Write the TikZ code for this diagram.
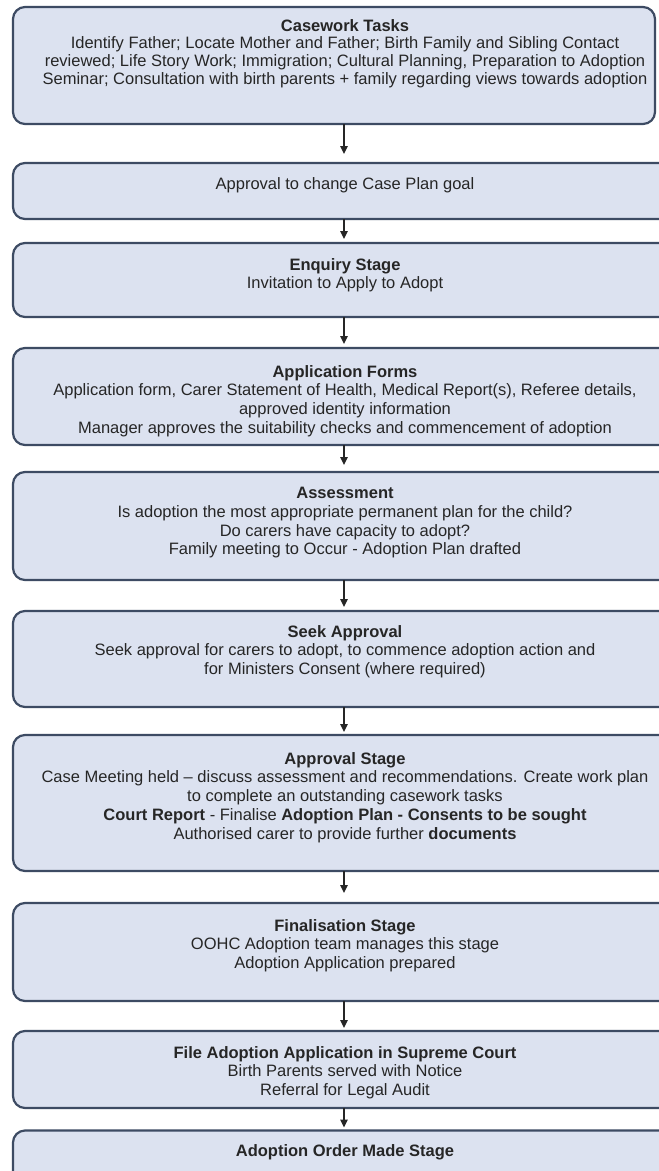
\documentclass[tikz,border=0pt]{standalone}
\usepackage{fontspec}
\setmainfont{Liberation Sans}
\usetikzlibrary{arrows.meta}
\definecolor{boxfill}{HTML}{DCE2F0}
\definecolor{boxline}{HTML}{3D4B63}
\definecolor{txt}{HTML}{262626}
\begin{document}
\begin{tikzpicture}[x=1pt,y=-1pt,
  stagebox/.style={draw=boxline, line width=2.2pt, fill=boxfill, rounded corners=12pt,
    minimum width=662pt, inner sep=0pt, outer sep=0pt},
  stagetext/.style={text=txt, align=center, inner sep=0pt, anchor=north,
    font=\fontsize{16.5}{18.8}\selectfont},
  flow/.style={draw=black!85, line width=1.3pt, -{Triangle[length=8pt,width=7.5pt]}}]
\useasboundingbox (0,0) rectangle (659,1171);
\clip (0,0) rectangle (659,1171);
\fill[white] (0,0) rectangle (659,1171);

% boxes
\node[stagebox, minimum width=642pt, minimum height=117pt] (b1) at (334,65.5) {};
\node[stagebox, minimum height=56pt]  (b2)  at (344,191) {};
\node[stagebox, minimum height=74pt]  (b3)  at (344,280) {};
\node[stagebox, minimum height=97pt]  (b4)  at (344,396.5) {};
\node[stagebox, minimum height=108pt] (b5)  at (344,526) {};
\node[stagebox, minimum height=96pt]  (b6)  at (344,659) {};
\node[stagebox, minimum height=136pt] (b7)  at (344,803) {};
\node[stagebox, minimum height=98pt]  (b8)  at (344,952) {};
\node[stagebox, minimum height=77pt]  (b9)  at (344,1069.5) {};
\node[stagebox, minimum height=99pt]  (b10) at (344,1180) {};

% texts
\node[stagetext, font=\fontsize{16.5}{17.8}\selectfont] (t1) at (345,19)
  {\textbf{Casework Tasks}\\
   Identify Father; Locate Mother and Father; Birth Family and Sibling Contact\\
   reviewed; Life Story Work; Immigration; Cultural Planning, Preparation to Adoption\\
   Seminar; Consultation with birth parents + family regarding views towards adoption};
\node[stagetext] (t2) at (345,177) {Approval to change Case Plan goal};
\node[stagetext] (t3) at (345,258) {\textbf{Enquiry Stage}\\ Invitation to Apply to Adopt};
\node[stagetext] (t4) at (345,365)
  {\textbf{Application Forms}\\
   Application form, Carer Statement of Health, Medical Report(s), Referee details,\\
   approved identity information\\
   Manager approves the suitability checks and commencement of adoption};
\node[stagetext] (t5) at (345,487)
  {\textbf{Assessment}\\
   Is adoption the most appropriate permanent plan for the child?\\
   Do carers have capacity to adopt?\\
   Family meeting to Occur - Adoption Plan drafted};
\node[stagetext] (t6) at (345,625)
  {\textbf{Seek Approval}\\
   Seek approval for carers to adopt, to commence adoption action and\\
   for Ministers Consent (where required)};
\node[stagetext] (t7) at (345,752)
  {\textbf{Approval Stage}\\
   Case Meeting held -- discuss assessment and recommendations. Create work plan\\
   to complete an outstanding casework tasks\\
   \textbf{Court Report} - Finalise \textbf{Adoption Plan - Consents to be sought}\\
   Authorised carer to provide further \textbf{documents}};
\node[stagetext] (t8) at (345,919)
  {\textbf{Finalisation Stage}\\
   OOHC Adoption team manages this stage\\
   Adoption Application prepared};
\node[stagetext] (t9) at (345,1046)
  {\textbf{File Adoption Application in Supreme Court}\\
   Birth Parents served with Notice\\
   Referral for Legal Audit};
\node[stagetext] (t10) at (345,1144) {\textbf{Adoption Order Made Stage}};

% connectors
\coordinate (ax) at (344,0);
\draw[flow, shorten >=9pt]  (b1.south -| ax) -- (b2.north -| ax);
\draw[flow, shorten >=4pt]  (b2.south -| ax) -- (b3.north -| ax);
\draw[flow, shorten >=4pt]  (b3.south -| ax) -- (b4.north -| ax);
\draw[flow, shorten >=7pt]  (b4.south -| ax) -- (b5.north -| ax);
\draw[flow, shorten >=4pt]  (b5.south -| ax) -- (b6.north -| ax);
\draw[flow, shorten >=3pt]  (b6.south -| ax) -- (b7.north -| ax);
\draw[flow, shorten >=10pt] (b7.south -| ax) -- (b8.north -| ax);
\draw[flow, shorten >=3pt]  (b8.south -| ax) -- (b9.north -| ax);
\draw[flow, shorten >=3pt]  (b9.south -| ax) -- (b10.north -| ax);
\end{tikzpicture}
\end{document}
